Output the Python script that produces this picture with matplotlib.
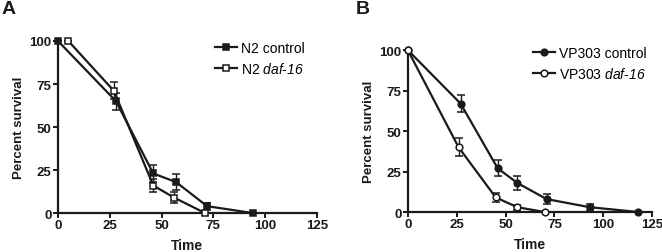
import numpy as np
import matplotlib.pyplot as plt
from matplotlib.lines import Line2D

plt.rcParams['font.family'] = ['Liberation Sans', 'DejaVu Sans']
plt.rcParams['mathtext.fontset'] = 'custom'
plt.rcParams['mathtext.it'] = 'Liberation Sans:italic'
plt.rcParams['mathtext.rm'] = 'Liberation Sans:italic'

# Panel A
a_ctrl_t = [0, 28, 46, 57, 72, 94]
a_ctrl_y = [100, 65, 23, 18, 4, 0]
a_ctrl_e = [0, 5, 5, 4.5, 2, 0]
a_daf_t = [5, 27, 46, 56, 71]
a_daf_y = [100, 71, 16, 9, 0]
a_daf_e = [0, 5, 4, 3, 0]

# Panel B
b_ctrl_t = [0, 27, 46, 56, 71, 93, 118]
b_ctrl_y = [100, 67, 27, 18, 8, 3, 0]
b_ctrl_e = [0, 5, 5, 4.5, 3, 2, 0]
b_daf_t = [0, 26, 45, 56, 70]
b_daf_y = [100, 40, 9, 3, 0]
b_daf_e = [0, 5.5, 3, 1.5, 0]

K = '#1a1a1a'
fig = plt.figure(figsize=(6.62, 2.53), dpi=100)
axA = fig.add_axes([0.0876, 0.154, 0.391, 0.68])
axB = fig.add_axes([0.616, 0.158, 0.369, 0.64])


def panel(ax, s1, s2, labels, markers, letter, lx, legxy):
    handles = []
    for (t, y, e), lab, (m, fc) in zip([s1, s2], labels, markers):
        ax.errorbar(t, y, yerr=e, color=K, lw=1.6, marker=m, ms=4.8,
                    mfc=fc, mec=K, mew=1.1, capsize=3, elinewidth=1.0,
                    capthick=1.0, clip_on=False, zorder=3)
        handles.append(Line2D([], [], color=K, lw=1.6, marker=m, ms=4.8,
                              mfc=fc, mec=K, mew=1.1, label=lab))
    ax.set_xlim(0, 125)
    ax.set_ylim(0, 100)
    ax.set_xticks([0, 25, 50, 75, 100, 125])
    ax.set_yticks([0, 25, 50, 75, 100])
    for sp in ['top', 'right']:
        ax.spines[sp].set_visible(False)
    for sp in ['left', 'bottom']:
        ax.spines[sp].set_linewidth(1.6)
        ax.spines[sp].set_color(K)
    ax.tick_params(width=1.4, length=3.5, labelsize=9.5, pad=1, color=K,
                   labelcolor=K)
    for lb in ax.get_xticklabels() + ax.get_yticklabels():
        lb.set_fontweight('bold')
    ax.set_xlabel('Time', fontsize=10, fontweight='bold', labelpad=5, color=K)
    ax.set_ylabel('Percent survival', fontsize=9.5, fontweight='bold',
                  labelpad=3, color=K)
    fig.legend(handles=handles, loc='upper left', bbox_to_anchor=legxy,
               frameon=False, fontsize=10, handlelength=1.6,
               handletextpad=0.25, labelspacing=0.45, borderpad=0,
               borderaxespad=0)
    fig.text(lx, 0.995, letter, fontsize=14, fontweight='bold', va='top',
             color=K)


panel(axA, (a_ctrl_t, a_ctrl_y, a_ctrl_e), (a_daf_t, a_daf_y, a_daf_e),
      ['N2 control', 'N2 $daf$-$16$'],
      [('s', K), ('s', 'white')], 'A', 0.002, (0.325, 0.835))
panel(axB, (b_ctrl_t, b_ctrl_y, b_ctrl_e), (b_daf_t, b_daf_y, b_daf_e),
      ['VP303 control', 'VP303 $daf$-$16$'],
      [('o', K), ('o', 'white')], 'B', 0.538, (0.805, 0.815))

fig.savefig('out.png', dpi=100)
